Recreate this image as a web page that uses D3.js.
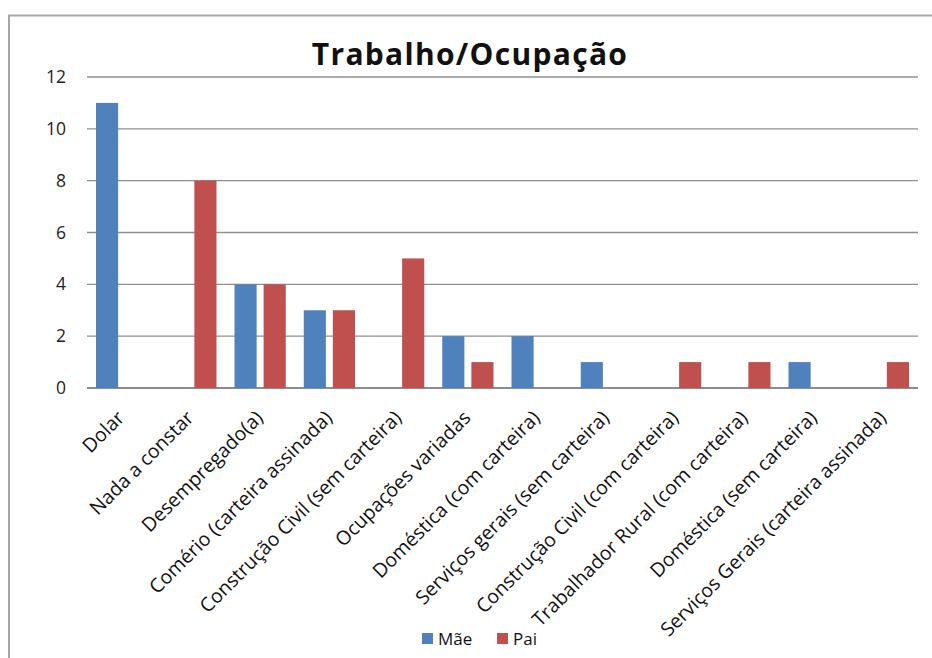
<!DOCTYPE html>
<html>
<head>
<meta charset="utf-8">
<script src="https://cdn.jsdelivr.net/npm/d3@7"></script>
<style>
  body { margin: 0; background: #fff; }
  svg { display: block; font-family: "Open Sans", sans-serif; }
</style>
</head>
<body>
<div id="chart"></div>
<script>
// data
var categories = ["Dolar", "Nada a constar", "Desempregado(a)", "Comério (carteira assinada)",
	"Construção Civil (sem carteira)", "Ocupações variadas", "Doméstica (com carteira)",
	"Serviços gerais (sem carteira)", "Construção Civil (com carteira)",
	"Trabalhador Rural (com carteira)", "Doméstica (sem carteira)", "Serviços Gerais (carteira assinada)"];
var series = ["Mãe", "Pai"];
var maeValues = [11, 0, 4, 3, 0, 2, 2, 1, 0, 0, 1, 0];
var paiValues = [0, 8, 4, 3, 5, 1, 0, 0, 1, 1, 0, 1];
var yTicks = [0, 2, 4, 6, 8, 10, 12];
var colors = ["#4F81BD", "#C0504D"];

var width = 932, height = 658;
var plot = { left: 87, right: 918, top: 77, bottom: 388 };

var svg = d3.select("#chart").append("svg")
	.attr("width", width)
	.attr("height", height);

// chart frame
svg.append("rect")
	.attr("x", 9).attr("y", 15.5)
	.attr("width", 960).attr("height", 700)
	.style("fill", "none")
	.style("stroke", "#a6a6a6")
	.style("stroke-width", 2);

var x = d3.scaleBand()
	.domain(categories)
	.range([plot.left, plot.right]);

var xSub = d3.scaleBand()
	.domain(series)
	.range([x.bandwidth() * 0.13, x.bandwidth() * 0.87])
	.paddingInner(0.24);

var y = d3.scaleLinear()
	.domain([0, 12])
	.range([plot.bottom, plot.top]);

// gridlines
svg.append("g").selectAll("line")
	.data(yTicks)
	.enter().append("line")
	.attr("x1", plot.left).attr("x2", plot.right)
	.attr("y1", function (d) { return y(d); })
	.attr("y2", function (d) { return y(d); })
	.style("stroke", function (d) { return d == 0 ? "#8c8c8c" : "#8f8f8f"; })
	.style("stroke-width", function (d) { return d == 0 ? 1.8 : 1.4; });

// y axis labels
var yAxis = svg.append("g")
	.attr("transform", "translate(" + plot.left + ",0)")
	.call(d3.axisLeft(y).tickValues(yTicks).tickSize(0).tickPadding(21));
yAxis.select(".domain").remove();
yAxis.selectAll("text")
	.style("font-family", "'Open Sans', sans-serif")
	.style("font-size", "17.5px")
	.style("fill", "#222");

// bars
var rows = categories.map(function (c, i) {
	return { cat: c, values: [maeValues[i], paiValues[i]] };
});

var groups = svg.append("g").selectAll("g")
	.data(rows)
	.enter().append("g")
	.attr("transform", function (d) { return "translate(" + x(d.cat) + ",0)"; });

groups.selectAll("rect")
	.data(function (d) {
		return d.values.map(function (v, j) { return { key: series[j], value: v, i: j }; })
			.filter(function (e) { return e.value > 0; });
	})
	.enter().append("rect")
	.attr("x", function (d) { return xSub(d.key); })
	.attr("width", xSub.bandwidth())
	.attr("y", function (d) { return y(d.value); })
	.attr("height", function (d) { return y(0) - y(d.value); })
	.style("fill", function (d) { return colors[d.i]; });

// x labels, rotated
svg.append("g").selectAll("text")
	.data(categories)
	.enter().append("text")
	.attr("transform", function (d) {
		return "translate(" + (x(d) + x.bandwidth() / 2 + 4) + ",419) rotate(-45)";
	})
	.attr("text-anchor", "end")
	.style("font-size", "19.5px")
	.style("fill", "#111")
	.text(function (d) { return d; });

// title
svg.append("text")
	.attr("x", 470)
	.attr("y", 65)
	.attr("text-anchor", "middle")
	.style("font-size", "30px")
	.style("font-weight", "700")
	.style("letter-spacing", "1.3px")
	.style("fill", "#111")
	.text("Trabalho/Ocupação");

// legend
var legend = svg.append("g").selectAll("g")
	.data(series)
	.enter().append("g")
	.attr("transform", function (d, i) { return "translate(" + (422 + i * 75) + ",633)"; });

legend.append("rect")
	.attr("width", 11).attr("height", 11)
	.style("fill", function (d, i) { return colors[i]; });

legend.append("text")
	.attr("x", 16).attr("y", 11.5)
	.style("font-size", "17px")
	.style("fill", "#111")
	.text(function (d) { return d; });
</script>
</body>
</html>
